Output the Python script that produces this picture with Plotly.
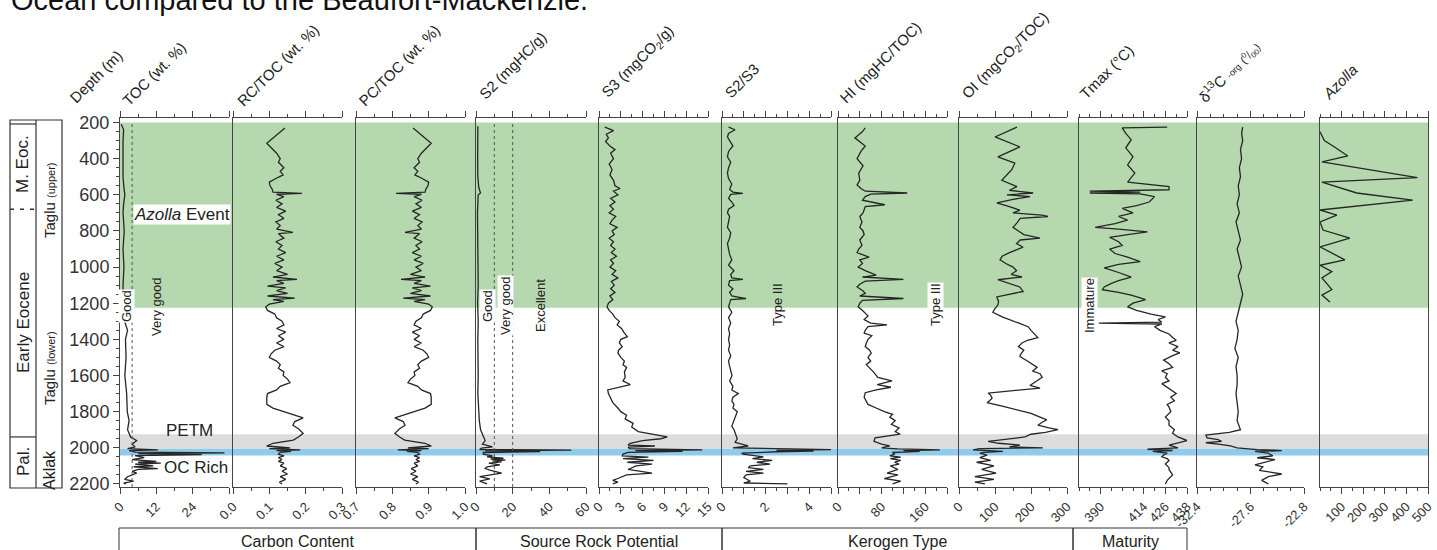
import plotly.graph_objects as go

# ---------------- data: (depth m, value) ----------------
toc_profile = [(210, 0.4), (240, 1.2), (300, 1.0), (400, 0.9), (500, 1.0), (560, 1.3), (600, 1.6), (650, 1.2),
               (700, 1.0), (800, 1.4), (900, 1.0), (1000, 1.3), (1100, 1.0), (1200, 1.2), (1300, 1.5), (1350, 2.5),
               (1400, 1.8), (1500, 2.0), (1600, 1.6), (1700, 2.2), (1800, 2.4), (1850, 3.0), (1900, 2.5), (1940, 3.5),
               (1960, 5.5), (1980, 4.0), (1995, 5.0), (2005, 2.5), (2012, 12.5), (2016, 3.0), (2024, 5.0), (2028, 34.5),
               (2032, 6.0), (2038, 27.0), (2043, 5.0), (2055, 8.0), (2065, 4.0), (2075, 12.0), (2080, 6.0), (2085, 13.5),
               (2090, 5.0), (2100, 11.0), (2105, 4.5), (2115, 12.5), (2120, 6.0), (2130, 4.0), (2140, 5.5), (2160, 2.5),
               (2175, 1.5), (2185, 4.5), (2195, 1.2), (2200, 2.0)]

# depth, RC/TOC, PC/TOC
rc_pc_profile = [(230, .143, .857), (315, .093, .907), (370, .120, .880), (400, .130, .870), (420, .125, .875),
                 (450, .140, .860), (470, .130, .870), (490, .138, .862), (510, .118, .882), (530, .100, .900),
                 (550, .102, .898), (570, .108, .892), (585, .110, .890), (592, .190, .810), (597, .120, .880),
                 (610, .140, .860), (630, .118, .882), (650, .135, .865), (670, .120, .880), (690, .145, .855),
                 (710, .125, .875), (730, .140, .860), (750, .118, .882), (770, .130, .870), (790, .120, .880),
                 (808, .165, .835), (815, .125, .875), (840, .140, .860), (860, .118, .882), (880, .135, .865),
                 (900, .125, .875), (920, .145, .855), (940, .120, .880), (960, .140, .860), (980, .115, .885),
                 (1000, .135, .865), (1020, .120, .880), (1040, .150, .850), (1055, .110, .890), (1068, .176, .824),
                 (1075, .120, .880), (1090, .140, .860), (1105, .095, .905), (1115, .145, .855), (1130, .120, .880),
                 (1145, .150, .850), (1160, .095, .905), (1172, .170, .830), (1180, .110, .890), (1190, .140, .860),
                 (1205, .100, .900), (1220, .090, .910), (1240, .095, .905), (1260, .115, .885), (1280, .120, .880),
                 (1300, .135, .865), (1320, .140, .860), (1340, .120, .880), (1360, .145, .855), (1380, .125, .875),
                 (1400, .140, .860), (1420, .120, .880), (1440, .140, .860), (1460, .115, .885), (1480, .105, .895),
                 (1500, .100, .900), (1520, .120, .880), (1540, .130, .870), (1560, .125, .875), (1580, .140, .860),
                 (1600, .138, .862), (1620, .150, .850), (1640, .157, .843), (1660, .130, .870), (1680, .120, .880),
                 (1700, .095, .905), (1720, .093, .907), (1760, .093, .907), (1780, .110, .890), (1800, .140, .860),
                 (1820, .170, .830), (1835, .193, .807), (1855, .170, .830), (1875, .165, .835), (1895, .180, .820),
                 (1920, .193, .807), (1940, .180, .820), (1957, .166, .834), (1975, .110, .890), (1990, .093, .907),
                 (2000, .157, .843), (2005, .100, .900), (2012, .185, .815), (2016, .120, .880), (2020, .160, .840),
                 (2025, .130, .870), (2035, .125, .875), (2045, .140, .860), (2055, .125, .875), (2065, .135, .865),
                 (2075, .125, .875), (2085, .140, .860), (2100, .130, .870), (2115, .148, .852), (2130, .135, .865),
                 (2145, .150, .850), (2160, .130, .870), (2175, .145, .855), (2190, .128, .872), (2200, .135, .865)]

s2_profile = [(220, 1.0), (300, 0.8), (400, 0.9), (500, 1.0), (560, 1.5), (590, 2.5), (600, 1.2), (700, 0.8),
              (800, 1.0), (900, 0.8), (1000, 1.0), (1100, 1.2), (1200, 0.9), (1300, 1.2), (1400, 1.0), (1500, 1.3),
              (1600, 1.2), (1700, 1.0), (1800, 1.5), (1850, 1.8), (1900, 2.5), (1940, 4.0), (1960, 5.0), (1980, 3.5),
              (1995, 9.0), (2002, 3.0), (2010, 2.0), (2013, 52.0), (2017, 5.0), (2021, 35.0), (2026, 4.0), (2035, 4.0),
              (2045, 9.0), (2050, 6.0), (2058, 15.0), (2062, 8.0), (2068, 16.0), (2072, 9.0), (2078, 14.0), (2085, 7.0),
              (2095, 13.0), (2105, 6.0), (2115, 5.0), (2125, 8.0), (2140, 14.0), (2150, 8.0), (2160, 2.0), (2172, 7.5),
              (2185, 2.0), (2200, 6.0)]

s3_profile = [(225, 0.8), (245, 2.0), (265, 1.0), (285, 1.3), (305, 0.9), (330, 1.5), (350, 2.2), (370, 1.6),
              (400, 2.0), (430, 1.4), (460, 1.8), (490, 1.5), (520, 2.0), (550, 2.2), (565, 2.9), (580, 2.0),
              (600, 2.6), (620, 1.6), (640, 2.2), (660, 1.5), (680, 2.0), (700, 1.4), (720, 2.3), (740, 1.8),
              (760, 1.5), (780, 2.5), (800, 1.8), (820, 2.1), (840, 1.4), (860, 2.0), (880, 1.6), (900, 2.2),
              (920, 1.7), (940, 2.4), (960, 1.6), (980, 2.0), (1000, 1.5), (1020, 2.3), (1040, 1.8), (1060, 2.6),
              (1080, 1.7), (1100, 2.1), (1120, 1.6), (1140, 2.2), (1160, 1.5), (1180, 1.9), (1200, 1.3), (1220, 1.1),
              (1240, 1.4), (1260, 1.9), (1280, 2.2), (1300, 2.8), (1320, 2.5), (1340, 3.1), (1360, 3.4), (1385, 3.9),
              (1400, 3.0), (1420, 2.8), (1440, 3.2), (1460, 2.7), (1475, 2.6), (1500, 3.0), (1520, 3.5), (1540, 3.3),
              (1555, 3.8), (1580, 3.5), (1610, 3.6), (1630, 3.3), (1650, 4.3), (1665, 2.5), (1680, 1.2), (1700, 1.3),
              (1720, 1.5), (1750, 1.9), (1780, 2.6), (1800, 3.0), (1820, 3.8), (1840, 3.6), (1865, 4.7), (1885, 4.5),
              (1910, 5.4), (1925, 7.5), (1940, 9.4), (1950, 8.5), (1960, 6.0), (1975, 4.3), (1985, 4.0), (1990, 7.7),
              (1996, 4.0), (2005, 4.2), (2012, 14.2), (2016, 5.0), (2020, 11.5), (2025, 4.0), (2035, 3.3), (2045, 3.2),
              (2052, 6.8), (2060, 3.3), (2070, 7.5), (2080, 3.9), (2090, 7.3), (2100, 5.1), (2120, 4.0), (2140, 7.3),
              (2150, 3.8), (2170, 2.6), (2180, 1.9), (2190, 2.6), (2200, 1.9)]

s2s3_profile = [(225, 0.3), (240, 0.6), (260, 0.3), (280, 0.25), (300, 0.35), (330, 0.5), (360, 0.3), (390, 0.25),
                (420, 0.4), (450, 0.3), (480, 0.25), (510, 0.3), (540, 0.45), (570, 0.35), (585, 0.5), (592, 0.96),
                (598, 0.4), (620, 0.3), (640, 0.45), (660, 0.55), (680, 0.3), (700, 0.25), (720, 0.35), (750, 0.3),
                (780, 0.25), (810, 0.4), (840, 0.35), (870, 0.25), (900, 0.3), (930, 0.35), (960, 0.45), (990, 0.3),
                (1020, 0.55), (1040, 0.4), (1060, 0.45), (1068, 0.96), (1075, 0.35), (1100, 0.3), (1120, 0.5),
                (1140, 0.35), (1160, 0.45), (1174, 1.1), (1180, 0.4), (1200, 0.35), (1220, 0.3), (1250, 0.45),
                (1280, 0.3), (1310, 0.4), (1340, 0.3), (1370, 0.35), (1400, 0.3), (1430, 0.35), (1460, 0.3),
                (1490, 0.4), (1520, 0.3), (1550, 0.35), (1580, 0.4), (1600, 0.46), (1630, 0.35), (1660, 0.5),
                (1680, 0.45), (1700, 0.75), (1720, 0.5), (1740, 0.45), (1760, 0.55), (1780, 0.5), (1800, 0.7),
                (1830, 0.6), (1860, 0.5), (1880, 0.45), (1900, 0.55), (1920, 0.6), (1950, 0.7), (1970, 0.6),
                (1990, 1.2), (2000, 0.5), (2010, 5.0), (2014, 2.5), (2018, 4.2), (2022, 2.5), (2030, 0.9), (2035, 0.97),
                (2050, 1.9), (2060, 1.4), (2070, 2.3), (2080, 1.6), (2090, 2.2), (2100, 1.3), (2110, 1.2), (2120, 1.9),
                (2130, 1.1), (2140, 1.9), (2150, 1.1), (2165, 1.0), (2185, 1.3), (2195, 1.0), (2200, 3.0)]

hi_profile = [(230, 50), (250, 45), (285, 31), (330, 50), (360, 42), (400, 35), (440, 46), (480, 38), (520, 40),
              (545, 35), (565, 42), (580, 50), (590, 127), (596, 60), (610, 50), (630, 45), (655, 86), (665, 50),
              (700, 46), (720, 40), (750, 44), (780, 40), (800, 46), (820, 48), (850, 40), (880, 44), (900, 38),
              (920, 35), (945, 57), (960, 40), (980, 45), (1000, 37), (1020, 50), (1045, 70), (1055, 45), (1068, 120),
              (1078, 50), (1095, 40), (1110, 35), (1130, 45), (1145, 50), (1160, 40), (1174, 120), (1184, 45),
              (1200, 40), (1220, 37), (1240, 45), (1255, 50), (1270, 55), (1290, 48), (1310, 60), (1320, 90),
              (1330, 55), (1350, 50), (1365, 48), (1380, 62), (1400, 55), (1420, 52), (1440, 50), (1460, 58),
              (1475, 61), (1500, 55), (1520, 60), (1540, 52), (1555, 57), (1580, 65), (1610, 73), (1630, 99),
              (1650, 72), (1665, 97), (1680, 70), (1695, 50), (1720, 48), (1740, 52), (1760, 55), (1780, 70),
              (1800, 85), (1815, 100), (1830, 95), (1850, 105), (1870, 98), (1890, 112), (1910, 105), (1925, 114),
              (1945, 68), (1965, 66), (1980, 80), (1990, 95), (2000, 80), (2006, 110), (2012, 187), (2016, 120),
              (2020, 150), (2026, 100), (2035, 104), (2045, 95), (2052, 115), (2060, 96), (2070, 115), (2080, 104),
              (2090, 112), (2100, 96), (2120, 110), (2140, 90), (2150, 110), (2170, 85), (2185, 115), (2200, 100)]

oi_profile = [(225, 161), (280, 100), (335, 169), (390, 108), (425, 155), (460, 147), (520, 119), (555, 161),
              (575, 140), (590, 206), (600, 133), (610, 197), (625, 150), (645, 105), (665, 140), (685, 169),
              (700, 150), (712, 230), (720, 247), (730, 170), (755, 161), (780, 150), (800, 165), (820, 180),
              (840, 225), (850, 170), (870, 160), (890, 178), (920, 140), (940, 120), (960, 114), (980, 130),
              (1000, 150), (1020, 160), (1040, 145), (1055, 175), (1070, 108), (1090, 140), (1110, 169), (1135, 178),
              (1150, 140), (1165, 105), (1190, 110), (1210, 108), (1230, 100), (1250, 94), (1275, 120), (1295, 147),
              (1315, 170), (1330, 192), (1350, 200), (1370, 210), (1390, 219), (1405, 190), (1420, 175), (1440, 165),
              (1460, 180), (1480, 172), (1495, 169), (1520, 190), (1540, 205), (1555, 217), (1575, 205), (1590, 225),
              (1610, 231), (1630, 215), (1655, 197), (1670, 225), (1685, 150), (1697, 81), (1710, 88), (1725, 92),
              (1740, 85), (1750, 78), (1770, 120), (1790, 160), (1810, 200), (1830, 225), (1845, 244), (1860, 230),
              (1875, 219), (1890, 250), (1900, 275), (1915, 240), (1925, 200), (1940, 183), (1950, 140), (1965, 81),
              (1975, 110), (1985, 169), (1995, 140), (2000, 233), (2005, 58), (2012, 39), (2016, 80), (2020, 122),
              (2025, 70), (2030, 58), (2040, 78), (2055, 58), (2070, 88), (2080, 49), (2100, 97), (2120, 63),
              (2140, 103), (2160, 44), (2175, 97), (2190, 44), (2200, 72)]

tmax_profile = [(225, 427), (230, 402), (260, 404), (295, 407), (340, 404), (390, 408), (435, 405), (480, 409),
                (530, 405), (555, 428), (572, 428), (580, 384), (585, 412), (590, 384), (595, 412), (610, 420),
                (640, 417), (660, 410), (675, 402), (700, 408), (720, 400), (740, 405), (760, 398), (780, 387),
                (790, 400), (805, 416), (820, 405), (835, 395), (860, 400), (880, 402), (900, 395), (925, 398),
                (945, 405), (970, 412), (985, 400), (1005, 392), (1030, 400), (1055, 407), (1075, 400), (1090, 396),
                (1110, 392), (1125, 391), (1140, 400), (1155, 407), (1170, 412), (1180, 415), (1200, 408), (1220, 405),
                (1240, 410), (1260, 418), (1275, 426), (1290, 422), (1305, 424), (1310, 389), (1315, 424), (1330, 420),
                (1350, 423), (1370, 428), (1390, 430), (1405, 432), (1420, 428), (1440, 433), (1460, 430), (1475, 434),
                (1490, 430), (1515, 425), (1535, 428), (1555, 430), (1575, 424), (1590, 427), (1610, 426), (1630, 428),
                (1645, 424), (1665, 427), (1685, 430), (1700, 432), (1720, 429), (1740, 431), (1760, 427), (1775, 428),
                (1800, 429), (1830, 426), (1850, 428), (1875, 428), (1900, 431), (1920, 430), (1940, 433), (1960, 438),
                (1975, 432), (1985, 428), (2000, 433), (2008, 416), (2015, 430), (2020, 419), (2030, 427), (2040, 425),
                (2050, 424), (2060, 427), (2070, 428), (2090, 426), (2110, 428), (2120, 428), (2150, 430), (2180, 427),
                (2200, 426)]

d13c_profile = [(225, -28.3), (260, -28.4), (300, -28.3), (350, -28.5), (400, -28.4), (450, -28.6), (500, -28.5),
                (550, -28.7), (600, -28.6), (650, -28.8), (700, -28.6), (750, -28.9), (800, -28.7), (850, -28.5),
                (900, -28.8), (950, -28.6), (1000, -28.4), (1050, -28.7), (1100, -28.5), (1150, -28.3), (1200, -28.5),
                (1250, -28.7), (1300, -28.9), (1350, -28.7), (1400, -28.8), (1450, -29.0), (1500, -28.7),
                (1550, -28.9), (1600, -28.8), (1650, -28.8), (1700, -28.9), (1750, -28.8), (1800, -28.7),
                (1850, -28.8), (1880, -28.6), (1900, -28.5), (1915, -29.5), (1930, -31.6), (1945, -31.5),
                (1955, -30.5), (1965, -30.2), (1972, -31.6), (1980, -30.5), (1990, -29.4), (2000, -28.8),
                (2005, -28.0), (2010, -27.0), (2013, -25.6), (2016, -24.8), (2020, -27.2), (2030, -26.0),
                (2045, -25.6), (2055, -27.0), (2065, -25.4), (2080, -26.4), (2095, -27.2), (2105, -26.5),
                (2125, -26.8), (2145, -24.8), (2160, -26.0), (2180, -26.6), (2200, -26.0)]

azolla_profile = [(251, 0), (300, 20), (330, 60), (385, 129), (418, 9), (505, 451), (530, 9), (590, 170),
                  (629, 429), (684, 0), (712, 78), (750, 0), (795, 14), (840, 138), (888, 0), (960, 115), (990, 0),
                  (1025, 55), (1060, 9), (1125, 55), (1155, 9), (1193, 46)]

depth_ticks = list(range(200, 2201, 200))
green_zone = (200, 1225)      # Azolla Event
petm_zone = (1925, 2007)      # PETM
ocrich_zone = (2007, 2042)    # OC rich

# ---------------- layout helpers (pixels of the 1437x550 page) ----------------
W, H = 1437, 550


def px(x):
    return x / W


def py(y):
    return 1 - y / H


PLOT_TOP, PLOT_BOT = 118, 487
DEPTH_RANGE = [2217, 175]
LINE = dict(color="#262626", width=1.3)
FONT = "Arial, 'Liberation Sans', Helvetica, sans-serif"
AXC = "#444444"

panels = [
    dict(data=toc_profile, col=1, l=120, r=229, rng=[0, 36], tv=[0, 12, 24, 36], tt=["0", "12", "24", ""], md=6),
    dict(data=rc_pc_profile, col=1, l=233, r=342, rng=[0, 0.3], tv=[0, 0.1, 0.2, 0.3],
         tt=["0.0", "0.1", "0.2", "0.3"], md=0.05),
    dict(data=rc_pc_profile, col=2, l=356, r=465, rng=[0.7, 1.0], tv=[0.7, 0.8, 0.9, 1.0],
         tt=["0.7", "0.8", "0.9", "1.0"], md=0.05),
    dict(data=s2_profile, col=1, l=476, r=586, rng=[0, 60], tv=[0, 20, 40, 60], tt=["0", "20", "40", "60"], md=10),
    dict(data=s3_profile, col=1, l=599, r=708, rng=[0, 15], tv=[0, 3, 6, 9, 12, 15],
         tt=["0", "3", "6", "9", "12", "15"], md=1.5),
    dict(data=s2s3_profile, col=1, l=722, r=831, rng=[0, 5], tv=[0, 1, 2, 3, 4, 5],
         tt=["0", "", "2", "", "4", ""], md=0.5),
    dict(data=hi_profile, col=1, l=838, r=947, rng=[0, 200], tv=[0, 40, 80, 120, 160, 200],
         tt=["0", "", "80", "", "160", ""], md=20),
    dict(data=oi_profile, col=1, l=959, r=1067, rng=[0, 300], tv=[0, 100, 200, 300],
         tt=["0", "100", "200", "300"], md=50),
    dict(data=tmax_profile, col=1, l=1079, r=1187, rng=[378, 438], tv=[390, 414, 426, 438],
         tt=["390", "414", "426", "438"], md=6),
    dict(data=d13c_profile, col=1, l=1197, r=1304, rng=[-32.4, -22.8], tv=[-32.4, -27.6, -22.8],
         tt=["-32.4", "-27.6", "-22.8"], md=1.2),
    dict(data=azolla_profile, col=1, l=1320, r=1428, rng=[0, 500], tv=[100, 200, 300, 400, 500],
         tt=["100", "200", "300", "400", "500"], md=50),
]

fig = go.Figure()
layout = dict(
    template="none",
    width=W, height=H, margin=dict(l=0, r=0, t=0, b=0, pad=0, autoexpand=False),
    paper_bgcolor="white", plot_bgcolor="rgba(0,0,0,0)",
    showlegend=False, font=dict(family=FONT, color="#222"),
)

for i, p in enumerate(panels, start=1):
    sfx = "" if i == 1 else str(i)
    depths = [row[0] for row in p["data"]]
    vals = [row[p["col"]] for row in p["data"]]
    fig.add_trace(go.Scatter(x=vals, y=depths, mode="lines", line=LINE,
                             xaxis="x" + sfx, yaxis="y" + sfx, hoverinfo="skip"))
    layout["xaxis" + sfx] = dict(
        domain=[px(p["l"]), px(p["r"])], anchor="y" + sfx, range=p["rng"], automargin=False,
        tickmode="array", tickvals=p["tv"], ticktext=p["tt"],
        ticks="outside", ticklen=6, tickwidth=1, tickcolor=AXC,
        showline=True, linecolor=AXC, linewidth=1, mirror="ticks",
        showgrid=False, zeroline=False, tickangle=-45,
        tickfont=dict(size=13, color="#333", family=FONT),
        minor=dict(ticks="outside", ticklen=3, tickwidth=1, tickcolor=AXC, dtick=p["md"], tick0=p["rng"][0],
                   showgrid=False),
    )
    ya = dict(domain=[py(PLOT_BOT), py(PLOT_TOP)], anchor="x" + sfx, range=DEPTH_RANGE, automargin=False,
              showline=True, linecolor=AXC, linewidth=1, showgrid=False, zeroline=False)
    if i == 1:
        ya.update(tickmode="array", tickvals=depth_ticks, ticks="outside", ticklen=6, tickcolor=AXC,
                  tickfont=dict(size=18, color="#333", family=FONT),
                  minor=dict(ticks="outside", ticklen=3, tickcolor=AXC, dtick=50, tick0=200, showgrid=False))
    else:
        ya.update(showticklabels=False, ticks="")
    if i == len(panels):
        ya.update(mirror=True)
    layout["yaxis" + sfx] = ya

fig.update_layout(**layout)

shapes = []
# horizontal event bands across all panels
for (d0, d1), col in [(green_zone, "#B5D8AF"), (petm_zone, "#DCDCDC"), (ocrich_zone, "#8FCBEA")]:
    shapes.append(dict(type="rect", xref="paper", yref="y", x0=px(120), x1=px(1428), y0=d0, y1=d1,
                       fillcolor=col, line=dict(width=0), layer="below"))
# dotted threshold lines (TOC 4 %, S2 10 and 20 mgHC/g)
for xr, val in [("x", 4), ("x4", 10), ("x4", 20)]:
    shapes.append(dict(type="line", xref=xr, yref="y domain", x0=val, x1=val, y0=0, y1=0.985,
                       line=dict(color="#555", width=1, dash="dot")))

# stratigraphic column
SC = "#333"
shapes += [
    dict(type="rect", xref="paper", yref="paper", x0=px(10), x1=px(62), y0=py(488), y1=py(120),
         line=dict(color=SC, width=1.2)),
    dict(type="line", xref="paper", yref="paper", x0=px(36), x1=px(36), y0=py(488), y1=py(120),
         line=dict(color=SC, width=1.2)),
    dict(type="line", xref="paper", yref="paper", x0=px(10), x1=px(36), y0=py(124), y1=py(124),
         line=dict(color=SC, width=1.2)),
    dict(type="line", xref="paper", yref="y", x0=px(10), x1=px(36), y0=680, y1=680,
         line=dict(color=SC, width=1.4, dash="4px,6px")),
    dict(type="line", xref="paper", yref="y", x0=px(10), x1=px(36), y0=1940, y1=1940,
         line=dict(color=SC, width=1.2)),
]
# bottom group boxes
for l, r in [(119, 476), (476, 722), (722, 1073), (1073, 1187)]:
    shapes.append(dict(type="rect", xref="paper", yref="paper", x0=px(l), x1=px(r), y0=py(565), y1=py(528),
                       line=dict(color=SC, width=1)))
fig.update_layout(shapes=shapes)

ann = []


def text(x, y, s, size=13, angle=0, xa="center", ya="middle", bg=None, color="#222"):
    d = dict(xref="paper", yref="paper", x=px(x), y=py(y), text=s, showarrow=False, textangle=angle,
             xanchor=xa, yanchor=ya, font=dict(size=size, family=FONT, color=color), borderpad=0)
    if bg:
        d["bgcolor"] = bg
    ann.append(d)


# title fragment at the very top (partly cut off, as in the reference)
text(10, 17, "Ocean compared to the Beaufort-Mackenzie.", size=29, xa="left", ya="bottom", color="#111")

# column headers
headers = [
    (65, 108, "Depth (m)"), (118, 110, "TOC (wt. %)"), (232, 111, "RC/TOC (wt. %)"),
    (354, 111, "PC/TOC (wt. %)"), (474, 104, "S2 (mgHC/g)"), (597, 103, "S3 (mgCO<sub>2</sub>/g)"),
    (720, 102, "S2/S3"), (835, 108, "HI (mgHC/TOC)"), (957, 104, "OI (mgCO<sub>2</sub>/TOC)"),
    (1075, 103, "Tmax (°C)"),
    (1193, 108, "δ<sup>13</sup>C <span style='font-size:9px'>-org</span> "
                "<span style='font-size:11px'>(<sup>0</sup>/<sub>00</sub>)</span>"),
    (1318, 104, "<i>Azolla</i>"),
]
for x, y, s in headers:
    text(x, y, s, size=15, angle=-45, xa="left", ya="bottom")

# stratigraphic column text
text(23, 164, "M. Eoc.", size=17, angle=-90)
text(23, 323, "Early Eocene", size=17, angle=-90)
text(23, 462, "Pal.", size=17, angle=-90)
text(49, 200, "Taglu <span style='font-size:11px'>(upper)</span>", size=15, angle=-90)
text(49, 368, "Taglu <span style='font-size:11px'>(lower)</span>", size=15, angle=-90)
text(49, 470, "Aklak", size=16, angle=-90)

# in-panel labels
text(182, 215, "<i>Azolla</i> Event", size=17, bg="white")
text(190, 430, "PETM", size=17)
text(196, 467, "OC Rich", size=17, bg="white")
text(126, 306, "Good", size=13, angle=-90, bg="white")
text(156, 307, "Very good", size=13, angle=-90)
text(487, 306, "Good", size=13, angle=-90, bg="white")
text(505, 306, "Very good", size=13, angle=-90, bg="white")
text(540, 306, "Excellent", size=13, angle=-90)
text(777, 305, "Type III", size=13, angle=-90)
text(935, 305, "Type III", size=13, angle=-90, bg="white")
text(1089, 306, "Immature", size=13, angle=-90, bg="white")

# group labels
for cx, s in [(297.5, "Carbon Content"), (599, "Source Rock Potential"), (897.5, "Kerogen Type"), (1130, "Maturity")]:
    text(cx, 541, s, size=16)

fig.update_layout(annotations=ann)

fig.write_html("out.html", config={"displayModeBar": False},
               post_script="document.body.style.margin='0';document.body.style.overflow='hidden';")
